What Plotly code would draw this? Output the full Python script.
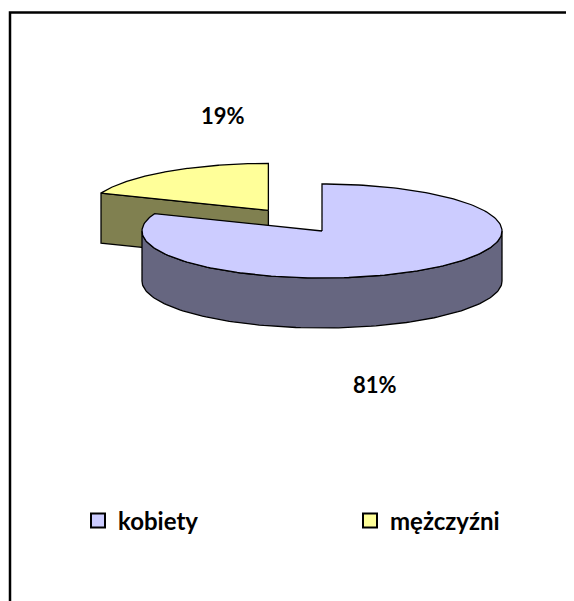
import numpy as np
import plotly.graph_objects as go

# ---- data ----
labels = ["kobiety", "mężczyźni"]
values = [81, 19]
top_colors = ["#CCCCFF", "#FFFF99"]
side_colors = ["#666680", "#808050"]

# page offset (browser body margin) -> figure maps screen pixels directly
OFF = 8
W, H = 574 - OFF, 601 - OFF

# ---- geometry (screen pixel space) ----
CX, CY = 322, 231          # pie centre
A, B = 180, 47             # ellipse radii
DEPTH = 50                 # extrusion
EXPLODE = [0.0, 0.53]      # explode fraction per slice

total = float(sum(values))
fracs = [v / total for v in values]
starts = np.cumsum([0] + fracs[:-1]) * 360.0
ends = starts + np.array(fracs) * 360.0


def pt(theta_deg, ox=0.0, oy=0.0, dz=0.0):
    t = np.radians(theta_deg)
    return CX + ox + A * np.sin(t), CY + oy - B * np.cos(t) + dz


def arc(t0, t1, ox=0.0, oy=0.0, dz=0.0, n=120):
    ts = np.linspace(t0, t1, n)
    xs, ys = pt(ts, ox, oy, dz)
    return list(xs), list(ys)


fig = go.Figure()
line = dict(color="black", width=1.3)

offsets = []
for i in range(len(values)):
    mid = np.radians((starts[i] + ends[i]) / 2)
    offsets.append((EXPLODE[i] * A * np.sin(mid), -EXPLODE[i] * B * np.cos(mid)))

# draw back (exploded) slice first, then front slice
for i in [1, 0]:
    ox, oy = offsets[i]
    s, e = starts[i], ends[i]
    sx, sy = pt(s, ox, oy)
    if 180 < s < 360:
        xs = [CX + ox, sx, sx, CX + ox, CX + ox]
        ys = [CY + oy, sy, sy + DEPTH, CY + oy + DEPTH, CY + oy]
        fig.add_trace(go.Scatter(x=xs, y=ys, fill="toself", fillcolor=side_colors[i],
                                 mode="lines", line=line, showlegend=False, hoverinfo="skip"))
    w0, w1 = max(s, 90), min(e, 270)
    if w1 > w0:
        tx, ty = arc(w0, w1, ox, oy)
        bx, by = arc(w1, w0, ox, oy, DEPTH)
        fig.add_trace(go.Scatter(x=tx + bx + [tx[0]], y=ty + by + [ty[0]], fill="toself",
                                 fillcolor=side_colors[i], mode="lines", line=line,
                                 showlegend=False, hoverinfo="skip"))
    ax_, ay_ = arc(s, e, ox, oy, n=200)
    fig.add_trace(go.Scatter(x=[CX + ox] + ax_ + [CX + ox], y=[CY + oy] + ay_ + [CY + oy],
                             fill="toself", fillcolor=top_colors[i], mode="lines", line=line,
                             showlegend=False, name=labels[i],
                             hovertemplate=f"{labels[i]}: {values[i]}%<extra></extra>"))

# legend entries (one legend per entry so they can sit apart on one row)
legend_ids = ["legend", "legend2"]
for i in range(len(values)):
    fig.add_trace(go.Scatter(x=[None], y=[None], mode="markers", name=labels[i],
                             legend=legend_ids[i],
                             marker=dict(symbol="square", size=14, color=top_colors[i],
                                         line=dict(color="black", width=2))))

# data labels
label_pos = [(375, 384), (223, 115)]
for i in range(len(values)):
    fig.add_annotation(x=label_pos[i][0], y=label_pos[i][1], text=f"<b>{values[i]}%</b>",
                       showarrow=False, font=dict(family="Lato", size=22, color="black"),
                       xanchor="center", yanchor="middle")

# chart border
fig.add_shape(type="rect", xref="x", yref="y", x0=10, y0=12.5, x1=640, y1=660,
              line=dict(color="black", width=2.5), fillcolor="rgba(0,0,0,0)", layer="above")

legend_common = dict(orientation="h", xanchor="left", yanchor="middle",
                     y=1 - (521 - OFF) / H, bgcolor="rgba(0,0,0,0)",
                     font=dict(family="Lato", size=24, color="black", weight="bold"),
                     itemclick=False, itemdoubleclick=False)

fig.update_layout(
    width=W, height=H,
    margin=dict(l=0, r=0, t=0, b=0),
    paper_bgcolor="white", plot_bgcolor="white",
    xaxis=dict(range=[OFF, 574], visible=False, fixedrange=True),
    yaxis=dict(range=[601, OFF], visible=False, fixedrange=True),
    showlegend=True,
    legend=dict(x=(78 - OFF) / W, **legend_common),
    legend2=dict(x=(350 - OFF) / W, **legend_common),
)

fig.write_html("out.html")
